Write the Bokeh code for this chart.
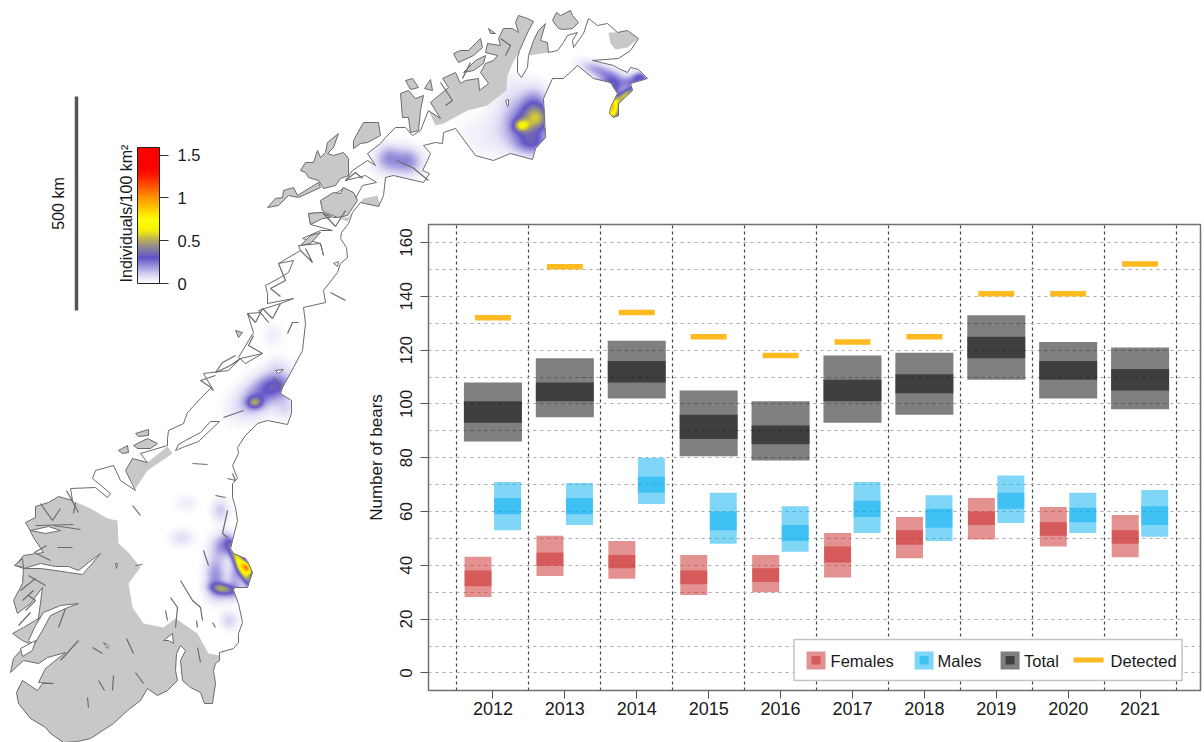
import numpy as np
from bokeh.plotting import figure
from bokeh.embed import file_html
from bokeh.resources import INLINE
from bokeh.core.properties import value
from bokeh.models import Range1d, FixedTicker, ColorBar, LinearColorMapper

FONT = "Liberation Sans"

# ---------------- chart data ----------------
years = [2012, 2013, 2014, 2015, 2016, 2017, 2018, 2019, 2020, 2021]
detected = [132, 151, 134, 125, 118, 123, 125, 141, 141, 152]
total_lo = [86, 95, 102, 80.5, 79, 93, 96, 109, 102, 98]
total_hi = [108, 117, 123.5, 105, 101, 118, 119, 133, 123, 121]
total_in_lo = [93, 101, 108, 87, 85, 101, 104, 117, 109, 105]
total_in_hi = [101, 108, 116, 96, 92, 109, 111, 125, 116, 113]
female_lo = [28.2, 36, 35, 29, 30, 35.5, 42.6, 49.6, 47, 43]
female_hi = [43.2, 51, 49, 43.8, 43.8, 52, 58, 65, 61.7, 58.7]
female_in_lo = [32.2, 39.8, 38.9, 33, 33.8, 41, 47.6, 55, 51, 48]
female_in_hi = [38.1, 44.8, 43.8, 38.1, 38.9, 47, 53, 60, 56, 53]
male_lo = [53, 55, 62.8, 48, 45, 52, 49, 55.7, 52, 50.6]
male_hi = [71, 70.6, 80, 67, 62, 71, 66, 73.4, 67, 68]
male_in_lo = [59, 59, 67, 53, 49, 58, 54, 61, 56, 55]
male_in_hi = [65, 65, 73, 60, 55, 64, 61, 67, 61.4, 62]
y_ticks = list(range(0, 161, 20))
y_grid = list(range(0, 161, 10))
x_grid = [y + 0.5 for y in [2011] + years]
legend_labels = ["Females", "Males", "Total", "Detected"]

# ---------------- map outline (page pixels) ----------------
east_low = [(204,703),(212,703),(215,683),(213,670),(215,663),(219,660),(219,652)]
east_high = [(233,648),(238,642),(238,633),(242,622),(238,603),(233,590),(234,587),(247,587),(252,572),(248,563),(245,558),
 (233,553),(230,548),(232,540),(237,520),(235,507),(232,497),(232,483),(237,478),(232,465),(238,453),(237,447),(245,435),
 (257,423),(267,420),(287,424),(291,413),(291,400),(280,393),(282,387),(293,367),(302,350),(305,323),(303,307),(325,302),
 (323,290),(337,272),(340,263),(347,257),(346,247),(340,238),(341,232),(348,223),(352,212),(360,202),(378,206),(383,195),
 (385,177),(393,175),(423,182),(429,173),(422,170),(427,160),(430,153),(423,145),(435,142),(442,143),(443,132),(455,128),
 (475,155),(493,160),(510,153),(532,159),(535,148),(545,137),(543,98),(552,78),(563,78),(577,65),(593,78),(610,82),(617,93),
 (610,107),(609,113),(613,117),(618,115),(618,103),(632,90),(630,83),(647,78),(638,69),(630,67),(627,72),(618,68),(613,65),
 (592,60),(618,58),(630,50),(638,38),(627,30),(617,32),(607,23),(597,25),(588,18)]
north_a = [(583,33),(573,47),(572,40),(577,32),(567,35),(563,42),(557,50),(548,52),(547,42),(540,40),(545,23),(538,30),
 (533,40),(528,55),(527,67),(521,77),(517,72),(517,57)]
north_b = [(519,50),(528,30),(533,21),(527,18),(518,15),(515,22),(518,32),(512,28),(503,28),(498,38),(500,45),(487,43),
 (485,52),(497,55),(493,60),(485,63),(480,72),(488,83),(479,90),(478,78),(465,80),(460,83),(455,72),(442,78),(448,87),
 (430,102),(440,118),(428,110)]
north_c = [(420,130),(412,135),(405,127),(395,127),(385,137),(380,143),(367,153),(375,165),(367,160),(352,170),(345,180),
 (365,175),(376,182),(362,185),(355,198),(343,188),(335,193),(320,202),(322,205),(347,208),(337,217),(333,217),(322,212),
 (308,213),(310,224),(332,230),(320,230),(302,238),(320,243),(323,255),(320,243),(298,245),(300,250),(278,263),(293,260),
 (288,272),(280,277),(265,285),(267,293),(267,303),(293,298),(280,303),(258,310),(268,322),(260,312),(247,313),(253,332),
 (238,357),(245,363),(262,353),(240,358),(228,370),(203,373),(213,390),(210,388),(200,398),(187,412),(183,423),(168,430),(167,438)]
west_high = [(70,488),(95,487),(107,497),(110,493),(92,478),(95,470),(113,465),(120,480),(135,490),(125,470),(132,458),
 (147,462),(140,453),(167,445)]
west_low = [(16,692),(22,680),(37,690),(42,683),(53,683),(38,682),(45,668),(65,652),(47,657),(38,663),(23,660),(10,672),
 (13,658),(20,650),(33,645),(22,640),(12,633),(23,627),(43,615),(37,625),(42,587),(30,603),(17,613),(13,600),(22,583),
 (23,568),(15,565),(23,555),(43,552),(33,537),(28,527),(25,522),(35,517),(35,506),(48,502),(58,496),(72,500)]
south = [(200,692),(190,687),(182,680),(180,660),(185,650),(180,645),(176,653),(175,670),(177,680),(167,690),(157,695),
 (147,688),(140,700),(127,710),(113,723),(90,738),(77,741),(63,742),(50,733),(45,727),(30,718),(18,703),(16,692)]
coast = east_low + east_high + north_a + north_b + north_c + west_high[::-1] + west_low[::-1] + south[::-1]

bnd_south = [(90,508),(107,518),(117,520),(118,543),(128,552),(140,567),(128,583),(132,607),(143,623),(163,627),(175,618),
 (197,633),(208,653),(219,655)]
gray_polys = [
 west_low + bnd_south + east_low[::-1] + south[:-1],
 north_b + [(435,125),(443,123),(467,110),(487,105),(493,100),(506,90),(507,75),(512,63)],
 [(528,55),(533,40),(538,30),(545,23),(540,40),(547,42),(548,52)],
 [(608,32),(610,43),(615,49),(627,47),(638,38),(627,30),(617,32)],
 [(135,488),(147,470),(172,453),(167,446),(147,462),(132,458),(125,470)],
 [(337,217),(348,217),(363,198),(377,195),(380,206),(360,202),(352,212),(347,221)],
]
islands_gray = [
 [(300,170),(305,162),(313,162),(317,150),(320,157),(325,152),(327,142),(338,133),(333,147),(327,153),(333,155),(343,152),
  (348,158),(348,175),(340,178),(335,185),(323,188),(318,180),(308,177),(305,172)],
 [(267,207),(275,198),(282,197),(283,190),(293,187),(297,195),(318,182),(320,187),(298,197),(288,195),(278,205)],
 [(353,140),(363,122),(378,122),(380,135),(367,142),(360,143),(353,148)],
 [(320,200),(333,192),(340,193),(343,187),(353,192),(357,200),(347,215),(337,217),(327,213),(322,210)],
 [(308,213),(310,224),(322,218),(330,217),(322,212)],
 [(300,245),(310,235),(320,232),(310,243)],
 [(400,93),(408,90),(415,98),(423,95),(420,110),(418,130),(410,132),(408,117),(402,117)],
 [(405,80),(412,78),(418,87),(410,89)],
 [(424,88),(430,79),(432,90)],
 [(488,28),(495,33),(490,33)],
 [(552,20),(556,12),(560,15),(570,10),(572,15),(578,22),(572,28),(563,29),(558,28)],
 [(453,53),(460,50),(468,50),(480,38),(482,47),(473,55),(458,62),(455,57)],
 [(463,72),(475,60),(485,55),(483,63),(473,70)],
 [(235,330),(242,332),(238,337)],
 [(118,450),(127,445),(128,452),(122,453)],
 [(133,445),(147,438),(157,443),(150,448),(137,448)],
 [(135,433),(148,429),(148,435),(138,436)],
 [(14,565),(22,558),(23,567)],
]
fjords_white = [
 [(23,568),(40,563),(55,566),(68,566),(78,570),(88,562),(100,553),(90,565),(82,574),(68,572),(55,570),(40,568)],
 [(28,640),(35,625),(43,612),(60,605),(78,603),(65,608),(50,615),(42,630),(33,645)],
 [(175,450),(182,447),(198,441),(219,421),(210,421),(200,432),(185,440),(178,444)],
 [(505,100),(508,99),(508,105),(507,106)],
 [(275,370),(283,369),(278,373)],
 [(333,263),(338,261),(337,266)],
 [(103,642),(108,645),(107,648)],
 [(163,640),(172,633),(173,643),(168,640)],
 [(115,563),(117,563),(116,568)],
 [(20,648),(35,640),(32,650),(22,656)],
 [(30,530),(48,526),(60,530),(45,533)],
]
lines_dark = [
 [(132,505),(140,515)],[(92,647),(102,653)],[(126,638),(133,653)],[(98,680),(104,690)],[(112,690),(113,675)],
 [(135,672),(143,683)],[(87,697),(88,707)],[(197,647),(200,662)],[(165,610),(167,620)],[(170,597),(177,607),(175,627)],
 [(180,580),(192,600),(200,607),(202,620)],[(203,550),(208,565)],[(227,510),(222,533),(227,537)],[(215,495),(225,497)],
 [(192,463),(207,464)],[(227,478),(235,480),(232,473)],[(223,417),(243,410)],[(58,627),(65,608)],[(57,547),(72,547)],
 [(135,565),(142,564)],[(53,525),(80,529)],[(35,525),(73,524)],[(75,502),(73,513)],[(212,622),(215,627)],[(196,620),(197,627)],
 [(287,333),(292,322),(298,322)],[(273,377),(282,388)],[(396,160),(412,167),(428,180)],[(28,575),(45,585)],[(20,590),(35,578)],
 [(22,600),(33,590)],[(60,660),(78,640)],
 [(247,313),(255,322),(262,308),(272,318),(280,303)],[(262,353),(248,345),(253,335)],[(240,358),(230,365),(215,372),(222,362),(235,355)],
 [(278,263),(285,280),(270,288),(280,296)],[(300,250),(312,262),(305,248)],[(322,212),(335,226),(345,210)],[(345,180),(355,172),(362,178)],
 [(345,300),(330,292)],[(212,388),(200,380),(215,375)],
 [(25,610),(35,600),(28,595)],[(18,625),(30,612)],[(40,503),(52,520),(60,508)],[(66,490),(78,512)],[(46,545),(34,552),(50,560)],
 [(440,82),(452,100),(445,105)],[(470,62),(462,78)],[(500,38),(510,45),(505,55)],
]

# density blobs: x, y, sigma-x, sigma-y, rotation (deg), height (individuals/100 km2)
blobs = [
 (521,125,5,4,0,0.36),(538,118,9,8,-15,0.27),(525,125,14,15,0,0.22),(533,143,11,7,0,0.18),(534,105,9,12,0,0.18),
 (525,125,22,22,0,0.06),(485,135,20,14,0,0.035),(510,95,12,18,0,0.04),
 (612,108,5,8,0,0.85),(625,95,8,3,-40,0.50),(612,85,9,8,0,0.30),(598,70,13,5,20,0.18),(640,77,6,4,0,0.30),(630,82,6,4,0,0.16),
 (388,157,9,9,0,0.17),(408,160,9,9,0,0.17),(398,166,17,9,0,0.05),
 (254,402,5,4,0,0.30),(262,393,20,11,-35,0.24),(275,385,10,8,0,0.12),(285,408,7,8,0,0.08),(285,388,9,7,0,0.05),(272,335,7,9,0,0.04),(276,365,7,6,0,0.04),
 (222,588,8,3.5,8,0.32),(215,575,7,14,0,0.20),(228,592,12,6,0,0.15),(225,545,9,8,0,0.22),(235,575,5,10,0,0.15),
 (241,566,15,3.5,64,0.70),(247,567,5,2.5,60,0.75),(186,503,8,6,0,0.04),(181,537,8,6,0,0.08),
 (220,510,6,8,0,0.11),(229,620,6,6,0,0.10),
]
ramp_v = [0, 0.08, 0.30, 0.42, 0.52, 0.62, 0.75, 1.0, 1.25, 1.35, 1.59]
ramp_r = [255, 226, 98, 140, 190, 245, 255, 255, 255, 255, 255]
ramp_g = [255, 224, 84, 135, 180, 240, 255, 150, 30, 0, 0]
ramp_b = [255, 246, 200, 150, 80, 10, 0, 0, 0, 0, 0]


def ramp(v):
    return (np.interp(v, ramp_v, ramp_r), np.interp(v, ramp_v, ramp_g), np.interp(v, ramp_v, ramp_b))


def inside(X, Y, poly):
    pts = np.array(poly, dtype=float)
    res = np.zeros(X.shape, dtype=bool)
    x0, y0 = pts[-1]
    for x1, y1 in pts:
        if y0 != y1:
            c = ((y0 > Y) != (y1 > Y)) & (X < (x1 - x0) * (Y - y0) / (y1 - y0) + x0)
            res ^= c
        x0, y0 = x1, y1
    return res


W, H = 660, 742
yy, xx = np.mgrid[0:H, 0:W] + 0.5
dens = np.zeros(xx.shape)
for bx, by, sx, sy, rot, amp in blobs:
    a = np.radians(rot)
    dx, dy = xx - bx, yy - by
    u = dx * np.cos(a) + dy * np.sin(a)
    v = -dx * np.sin(a) + dy * np.cos(a)
    dens += amp * np.exp(-0.5 * ((u / sx) ** 2 + (v / sy) ** 2))
mask = inside(xx, yy, coast)
r, g, b = ramp(dens)
alpha = np.clip(dens / 0.02, 0, 1) * mask
img = np.zeros((H, W), dtype=np.uint32)
view = img.view(dtype=np.uint8).reshape((H, W, 4))
view[..., 0] = r.astype(np.uint8)
view[..., 1] = g.astype(np.uint8)
view[..., 2] = b.astype(np.uint8)
view[..., 3] = (alpha * 255).astype(np.uint8)

# ---------------- map figure ----------------
m = figure(width=W, height=H, x_range=Range1d(0, W), y_range=Range1d(H, 0), x_axis_type=None, y_axis_type=None,
           toolbar_location=None, output_backend="svg", min_border=0, outline_line_color=None,
           background_fill_alpha=0, border_fill_alpha=0, margin=(0, 0, 0, 0))


def xs_ys(polys):
    return [[q[0] for q in pl] for pl in polys], [[q[1] for q in pl] for pl in polys]


GREY = "#C8C8C8"
EDGE = "#6b6b6b"
xs, ys = xs_ys([coast])
m.patches(xs, ys, fill_color="white", line_color=None)
m.image_rgba(image=[img], x=0, y=0, dw=W, dh=H)
xs, ys = xs_ys(gray_polys)
m.patches(xs, ys, fill_color=GREY, line_color=None)
xs, ys = xs_ys([coast])
m.patches(xs, ys, fill_alpha=0, line_color=EDGE, line_width=1)
xs, ys = xs_ys(islands_gray)
m.patches(xs, ys, fill_color=GREY, line_color=EDGE, line_width=1)
xs, ys = xs_ys(fjords_white)
m.patches(xs, ys, fill_color="white", line_color=EDGE, line_width=1)
xs, ys = xs_ys(lines_dark)
m.multi_line(xs, ys, line_color=EDGE, line_width=1.2)

# scale bar
m.segment(x0=[76], y0=[96], x1=[76], y1=[310], line_color="#555555", line_width=3.5)
m.text(x=[58], y=[203], text=["500 km"], angle=[np.pi / 2], text_font=value(FONT), text_font_size="16px",
       text_align="center", text_baseline="middle", text_color="#1a1a1a")
m.text(x=[126], y=[213], text=["Individuals/100 km²"], angle=[np.pi / 2], text_font=value(FONT), text_font_size="16px",
       text_align="center", text_baseline="middle", text_color="#1a1a1a")

vals = np.linspace(0, 1.59, 256)
pr, pg, pb = ramp(vals)
palette = ["#%02x%02x%02x" % (int(a), int(b_), int(c)) for a, b_, c in zip(pr, pg, pb)]
cb = ColorBar(color_mapper=LinearColorMapper(palette=palette, low=0, high=1.59),
              ticker=FixedTicker(ticks=[0, 0.5, 1, 1.5]),
              major_label_overrides={0: "0", 0.5: "0.5", 1: "1", 1.5: "1.5"},
              width=22, height=136, location=(137, H - 283), padding=0, margin=0,
              major_tick_in=0, major_tick_out=9, major_tick_line_color="#333333", label_standoff=9,
              major_label_text_font=FONT, major_label_text_font_size="16.5px", major_label_text_color="#1a1a1a",
              bar_line_color="#222222", bar_line_width=1, background_fill_alpha=0, border_line_color=None)
m.add_layout(cb, "center")

# ---------------- chart figure ----------------
p = figure(width=846, height=518, x_range=Range1d(2011.104, 2021.84), y_range=Range1d(-6.54, 166.7),
           toolbar_location=None, output_backend="svg", min_border_left=70, min_border_right=4, min_border_top=8,
           min_border_bottom=44, background_fill_alpha=0, border_fill_alpha=0, outline_line_color="#707070",
           outline_line_width=1.5, y_axis_label="Number of bears", margin=(-526, 0, 0, 358))
p.xaxis.ticker = FixedTicker(ticks=years)
p.yaxis.ticker = FixedTicker(ticks=y_ticks)
p.yaxis.major_label_orientation = "vertical"
p.xaxis.major_label_text_font_size = "18px"
p.yaxis.major_label_text_font_size = "17px"
for ax in (p.xaxis[0], p.yaxis[0]):
    ax.major_label_text_font = FONT
    ax.major_label_text_color = "#1a1a1a"
    ax.axis_line_color = "#707070"
    ax.major_tick_line_color = "#555555"
    ax.major_tick_out = 8
    ax.major_tick_in = 0
    ax.minor_tick_line_color = None
    ax.major_label_standoff = 8
p.xaxis.major_label_standoff = 3
p.yaxis.axis_label_text_font = FONT
p.yaxis.axis_label_text_font_size = "17px"
p.yaxis.axis_label_text_font_style = "normal"
p.yaxis.axis_label_text_color = "#1a1a1a"
p.yaxis.axis_label_standoff = 12
p.xgrid.ticker = FixedTicker(ticks=x_grid)
p.ygrid.ticker = FixedTicker(ticks=y_grid)
p.xgrid.grid_line_color = "#444444"
p.xgrid.grid_line_dash = "3 3"
p.xgrid.grid_line_width = 1.2
p.ygrid.grid_line_color = "#aaaaaa"
p.ygrid.grid_line_dash = "3 4"
p.ygrid.grid_line_width = 1.2

yr = np.array(years, dtype=float)
RED, CYAN, BLK, GOLD = "#C92323", "#00AEEF", "#000000", "#FDBA21"


def bars(cx, w, lo, hi, lo2, hi2, col):
    p.quad(left=cx - w / 2, right=cx + w / 2, bottom=lo, top=hi, fill_color=col, fill_alpha=0.5, line_color=None)
    p.quad(left=cx - w / 2, right=cx + w / 2, bottom=lo2, top=hi2, fill_color=col, fill_alpha=0.5, line_color=None)


bars(yr, 0.807, total_lo, total_hi, total_in_lo, total_in_hi, BLK)
bars(yr - 0.207, 0.375, female_lo, female_hi, female_in_lo, female_in_hi, RED)
bars(yr + 0.203, 0.375, male_lo, male_hi, male_in_lo, male_in_hi, CYAN)
p.segment(x0=yr - 0.25, x1=yr + 0.25, y0=detected, y1=detected, line_color=GOLD, line_width=5.5)


# legend, drawn in the chart with page-pixel helpers
def X(px):
    return 2012 + (px - 492.4) / 71.9


def Y(py):
    return (672.4 - py) / 2.69


p.quad(left=[X(793.5)], right=[X(1181.5)], bottom=[Y(680)], top=[Y(639)], fill_color="white", line_color="#c4c4c4", line_width=1.5)
for sx0, col in zip([806, 914, 1000], [RED, CYAN, BLK]):
    for a_, b_, c_, d_ in [(sx0, sx0 + 19, 651, 669), (sx0 + 5, sx0 + 14, 655.5, 664)]:
        p.quad(left=[X(a_)], right=[X(b_)], bottom=[Y(d_)], top=[Y(c_)], fill_color=col, fill_alpha=0.5, line_color=None)
p.segment(x0=[X(1073)], x1=[X(1103)], y0=[Y(659.5)], y1=[Y(659.5)], line_color=GOLD, line_width=5)
p.text(x=[X(830), X(937), X(1023.5), X(1110)], y=[Y(660.5)] * 4, text=legend_labels, text_font=value(FONT),
       text_font_size="16.5px", text_align="left", text_baseline="middle", text_color="#1a1a1a")

open("out.html", "w").write(file_html([m, p], INLINE))
